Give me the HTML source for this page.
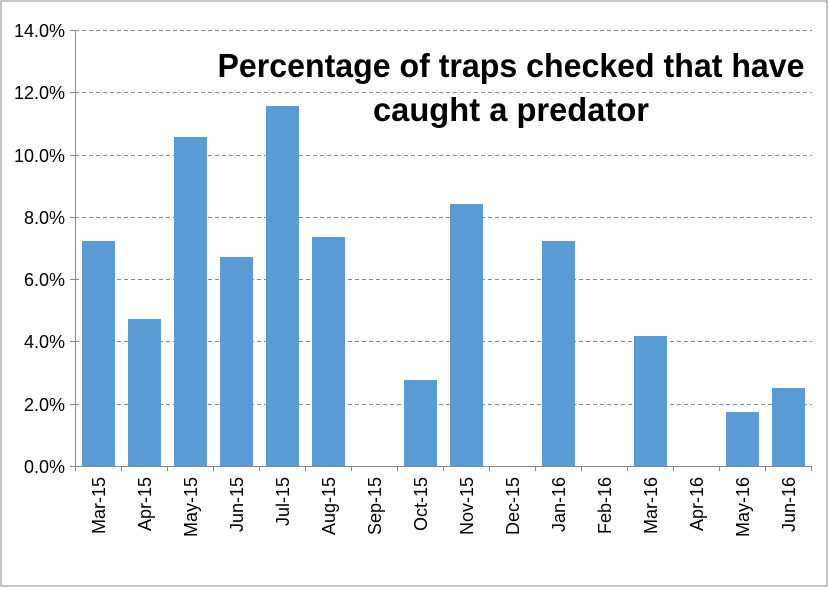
<!DOCTYPE html><html><head><style>body{margin:0;background:#fff}</style></head><body>
<svg width="828" height="587" xmlns="http://www.w3.org/2000/svg" font-family="Liberation Sans, sans-serif">
<rect x="1" y="1" width="826" height="585" fill="#fff" stroke="#888" stroke-width="1"/>
<g stroke="#888" stroke-dasharray="4,3" stroke-width="1">
<line x1="75" x2="812" y1="30.5" y2="30.5"/><line x1="75" x2="812" y1="92.5" y2="92.5"/><line x1="75" x2="812" y1="155.5" y2="155.5"/><line x1="75" x2="812" y1="217.5" y2="217.5"/><line x1="75" x2="812" y1="279.5" y2="279.5"/><line x1="75" x2="812" y1="341.5" y2="341.5"/><line x1="75" x2="812" y1="404.5" y2="404.5"/></g>
<g fill="#5b9bd5">
<rect x="82" y="241" width="33" height="225"/>
<rect x="128" y="319" width="33" height="147"/>
<rect x="174" y="137" width="33" height="329"/>
<rect x="220" y="257" width="33" height="209"/>
<rect x="266" y="106" width="33" height="360"/>
<rect x="312" y="237" width="33" height="229"/>
<rect x="404" y="380" width="33" height="86"/>
<rect x="450" y="204" width="33" height="262"/>
<rect x="542" y="241" width="33" height="225"/>
<rect x="634" y="336" width="33" height="130"/>
<rect x="726" y="412" width="33" height="54"/>
<rect x="772" y="388" width="33" height="78"/>
</g>
<g stroke="#888" stroke-width="1">
<line x1="75.5" y1="30" x2="75.5" y2="471"/><line x1="70" y1="466.5" x2="812" y2="466.5"/>
<line x1="70" x2="75" y1="30.5" y2="30.5"/><line x1="70" x2="75" y1="92.5" y2="92.5"/><line x1="70" x2="75" y1="155.5" y2="155.5"/><line x1="70" x2="75" y1="217.5" y2="217.5"/><line x1="70" x2="75" y1="279.5" y2="279.5"/><line x1="70" x2="75" y1="341.5" y2="341.5"/><line x1="70" x2="75" y1="404.5" y2="404.5"/>
</g>
<g font-size="18" fill="#000" text-anchor="end">
<text x="65" y="37">14.0%</text><text x="65" y="99">12.0%</text><text x="65" y="162">10.0%</text><text x="65" y="224">8.0%</text><text x="65" y="286">6.0%</text><text x="65" y="348">4.0%</text><text x="65" y="411">2.0%</text><text x="65" y="473">0.0%</text>
</g>
<g font-size="18" fill="#000" text-anchor="end">
<text transform="translate(105,477) rotate(-90)">Mar-15</text>
<text transform="translate(151,477) rotate(-90)">Apr-15</text>
<text transform="translate(197,477) rotate(-90)">May-15</text>
<text transform="translate(243,477) rotate(-90)">Jun-15</text>
<text transform="translate(289,477) rotate(-90)">Jul-15</text>
<text transform="translate(335,477) rotate(-90)">Aug-15</text>
<text transform="translate(381,477) rotate(-90)">Sep-15</text>
<text transform="translate(427,477) rotate(-90)">Oct-15</text>
<text transform="translate(473,477) rotate(-90)">Nov-15</text>
<text transform="translate(519,477) rotate(-90)">Dec-15</text>
<text transform="translate(565,477) rotate(-90)">Jan-16</text>
<text transform="translate(611,477) rotate(-90)">Feb-16</text>
<text transform="translate(657,477) rotate(-90)">Mar-16</text>
<text transform="translate(703,477) rotate(-90)">Apr-16</text>
<text transform="translate(749,477) rotate(-90)">May-16</text>
<text transform="translate(795,477) rotate(-90)">Jun-16</text>
</g>
<g font-size="33" font-weight="bold" fill="#000" text-anchor="middle">
<text x="511" y="77" textLength="587" lengthAdjust="spacingAndGlyphs">Percentage of traps checked that have</text>
<text x="511" y="121" textLength="276" lengthAdjust="spacingAndGlyphs">caught a predator</text>
</g>
<g stroke="#888"><line x1="121.5" x2="121.5" y1="466" y2="471"/><line x1="167.5" x2="167.5" y1="466" y2="471"/><line x1="213.5" x2="213.5" y1="466" y2="471"/><line x1="259.5" x2="259.5" y1="466" y2="471"/><line x1="305.5" x2="305.5" y1="466" y2="471"/><line x1="351.5" x2="351.5" y1="466" y2="471"/><line x1="397.5" x2="397.5" y1="466" y2="471"/><line x1="443.5" x2="443.5" y1="466" y2="471"/><line x1="489.5" x2="489.5" y1="466" y2="471"/><line x1="535.5" x2="535.5" y1="466" y2="471"/><line x1="581.5" x2="581.5" y1="466" y2="471"/><line x1="627.5" x2="627.5" y1="466" y2="471"/><line x1="673.5" x2="673.5" y1="466" y2="471"/><line x1="719.5" x2="719.5" y1="466" y2="471"/><line x1="765.5" x2="765.5" y1="466" y2="471"/><line x1="811.5" x2="811.5" y1="466" y2="471"/></g>
</svg></body></html>
